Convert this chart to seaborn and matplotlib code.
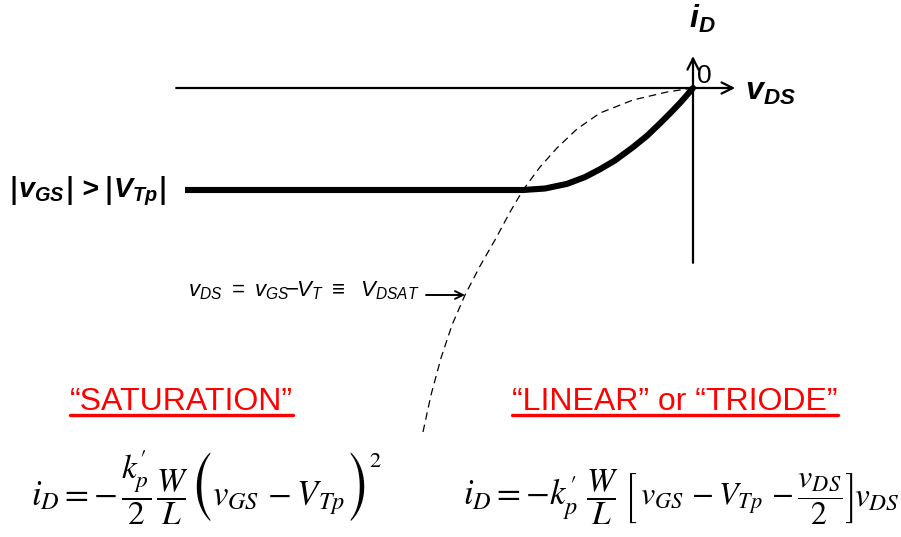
import matplotlib
matplotlib.use("Agg")
import matplotlib.pyplot as plt
import numpy as np
import pandas as pd
import seaborn as sns
from matplotlib.lines import Line2D

# p-channel MOSFET output characteristic: v_DS in volts, i_D in mA
v_sat = [-7.47, -2.5]
i_sat = [-1.5, -1.5]

v_tri = [-2.5, -2.176, -1.853, -1.588, -1.368, -1.147, -0.882, -0.676, -0.485, -0.338, -0.191, -0.088, 0.0]
i_tri = [-1.5, -1.478, -1.41, -1.31, -1.195, -1.065, -0.87, -0.703, -0.52, -0.373, -0.22, -0.103, 0.0]

# boundary v_DS = v_GS - V_T (locus of V_DSAT)
v_edge = [0.0, -0.382, -0.882, -1.368, -1.706, -2.0, -2.25, -2.5, -2.691, -2.912, -3.132, -3.353,
          -3.544, -3.706, -3.853, -3.971]
i_edge = [0.0, -0.059, -0.176, -0.368, -0.603, -0.882, -1.162, -1.5, -1.824, -2.235, -2.618, -3.044,
          -3.485, -3.971, -4.515, -5.059]

axis_labels = [r"$\mathbf{i_D}$", r"$\mathbf{v_{DS}}$", "0"]
edge_label = r"$v_{DS}\ =\ v_{GS}\!\!-\!\!V_T\ \equiv\ \ V_{DSAT}$"
region_labels = ["\u201cSATURATION\u201d", "\u201cLINEAR\u201d or \u201cTRIODE\u201d"]

# text styles
BI = dict(family="Liberation Sans", fontweight="bold", fontstyle="italic", fontsize=20.5)
BAR = dict(family="DejaVu Sans", fontweight="bold", fontstyle="oblique", fontsize=20)
BIM = dict(fontsize=20.5)
PAREN = dict(family="STIXSizeOneSym", fontsize=40)


def mt(size):
    return dict(fontsize=size, math_fontfamily="stix")


# label pieces: (text, gap before [px], baseline shift [px], style)
bias_label = [
    ("|", 0, 0, BAR),
    (r"$\mathbf{v_{GS}}$", 0, 0, BIM),
    ("|", 0, 0, BAR),
    (">", 6, 0, BI),
    ("|", 6, 0, BAR),
    (r"$\mathbf{V_{Tp}}$", -1, 0, BIM),
    ("|", 0, 0, BAR),
]

eq_sat = [
    (r"$i_D=-$", 0, 0, mt(25)),
    (r"$\dfrac{k_p^{\prime}}{2}$", 4, 0, mt(24)),
    (r"$\dfrac{W}{L}$", 5, 0, mt(24)),
    ("(", 0, 7, PAREN),
    (r"$v_{GS}\,-V_{Tp}$", -3, 0, mt(25)),
    (")", 1, 7, PAREN),
    (r"$2$", -3, -38, mt(16)),
]
eq_tri = [
    (r"$i_D=-k_p^{\prime}$", 0, 0, mt(25)),
    (r"$\dfrac{W}{L}$", 8, 0, mt(24)),
    (r"$\left[\,v_{GS}\,-V_{Tp}\,-\dfrac{v_{DS}}{2}\right]$", 5, 0, mt(23)),
    (r"$v_{DS}$", 1, 0, mt(24)),
]

sns.set_theme(style="white")
plt.rcParams["font.family"] = ["Liberation Sans", "DejaVu Sans"]
plt.rcParams["text.color"] = "black"
plt.rcParams["mathtext.fontset"] = "custom"
plt.rcParams["mathtext.rm"] = "Liberation Sans"
plt.rcParams["mathtext.it"] = "Liberation Sans:italic"
plt.rcParams["mathtext.bf"] = "Liberation Sans:italic:bold"

W, H = 901, 537
fig = plt.figure(figsize=(W / 100, H / 100), dpi=100)
ax = fig.add_axes([0, 0, 1, 1])
renderer = fig.canvas.get_renderer()

# 68 px per unit, origin placed at (693, 88) from the top-left corner
scale = 68.0
ox, oy = 693.0, 88.0
ax.set_xlim(-ox / scale, (W - ox) / scale)
ax.set_ylim(-(H - oy) / scale, oy / scale)


def at(x, y):
    """Figure fraction for a pixel position measured from the top-left."""
    return x / W, 1 - y / H


def typeset(pieces, x0, baseline):
    """Lay out text pieces left to right on a common baseline."""
    x = x0
    for txt, gap, dy, style in pieces:
        t = fig.text(*at(x + gap, baseline + dy), txt, ha="left", va="baseline", **style)
        x = t.get_window_extent(renderer).x1


# coordinate axes with open arrow heads
arrow = dict(arrowstyle="->", lw=1.6, color="black", shrinkA=0, shrinkB=0, mutation_scale=20)
ax.annotate("", xy=(0.62, 0), xytext=(-7.6, 0), arrowprops=arrow)
ax.annotate("", xy=(0, 0.47), xytext=(0, -2.57), arrowprops=arrow)

# characteristic and V_DSAT boundary
df_sat = pd.DataFrame({"v": v_sat, "i": i_sat})
df_tri = pd.DataFrame({"v": v_tri, "i": i_tri})
df_edge = pd.DataFrame({"v": v_edge, "i": i_edge})
sns.lineplot(data=df_edge, x="v", y="i", sort=False, estimator=None, ax=ax,
             color="black", lw=0.9, linestyle=(0, (6, 4)))
sns.lineplot(data=df_sat, x="v", y="i", sort=False, estimator=None, ax=ax,
             color="black", lw=4.4, solid_capstyle="butt")
sns.lineplot(data=df_tri, x="v", y="i", sort=False, estimator=None, ax=ax,
             color="black", lw=4.4, solid_capstyle="round")
ax.set_axis_off()

# axis labels
fig.text(*at(689, 28), axis_labels[0], fontsize=23, ha="left", va="baseline")
fig.text(*at(745, 100), axis_labels[1], fontsize=23, ha="left", va="baseline")
fig.text(*at(697, 83), axis_labels[2], fontsize=19, ha="left", va="baseline")

# bias condition label next to the saturation line
typeset(bias_label, 8, 198)

# V_DSAT label with arrow pointing at the boundary
fig.text(*at(188, 296), edge_label, fontsize=16, ha="left", va="baseline")
ax.annotate("", xy=(v_edge[11], i_edge[11]), xytext=(-39, 0), textcoords="offset pixels",
            arrowprops=dict(arrowstyle="->", lw=1.4, color="black", shrinkA=0, shrinkB=0,
                            mutation_scale=14))

# region names, underlined
for x0, label in zip([70, 512], region_labels):
    t = fig.text(*at(x0, 410), label, fontsize=23, color="#ff0000", ha="left", va="baseline")
    bb = t.get_window_extent(renderer)
    y = 1 - 414.5 / H
    fig.add_artist(Line2D([bb.x0 / W, bb.x1 / W], [y, y], color="#ff0000", lw=2.4,
                          transform=fig.transFigure))

# drain current equations
typeset(eq_sat, 31, 505)
typeset(eq_tri, 463, 505)

fig.savefig("out.png", dpi=100)
